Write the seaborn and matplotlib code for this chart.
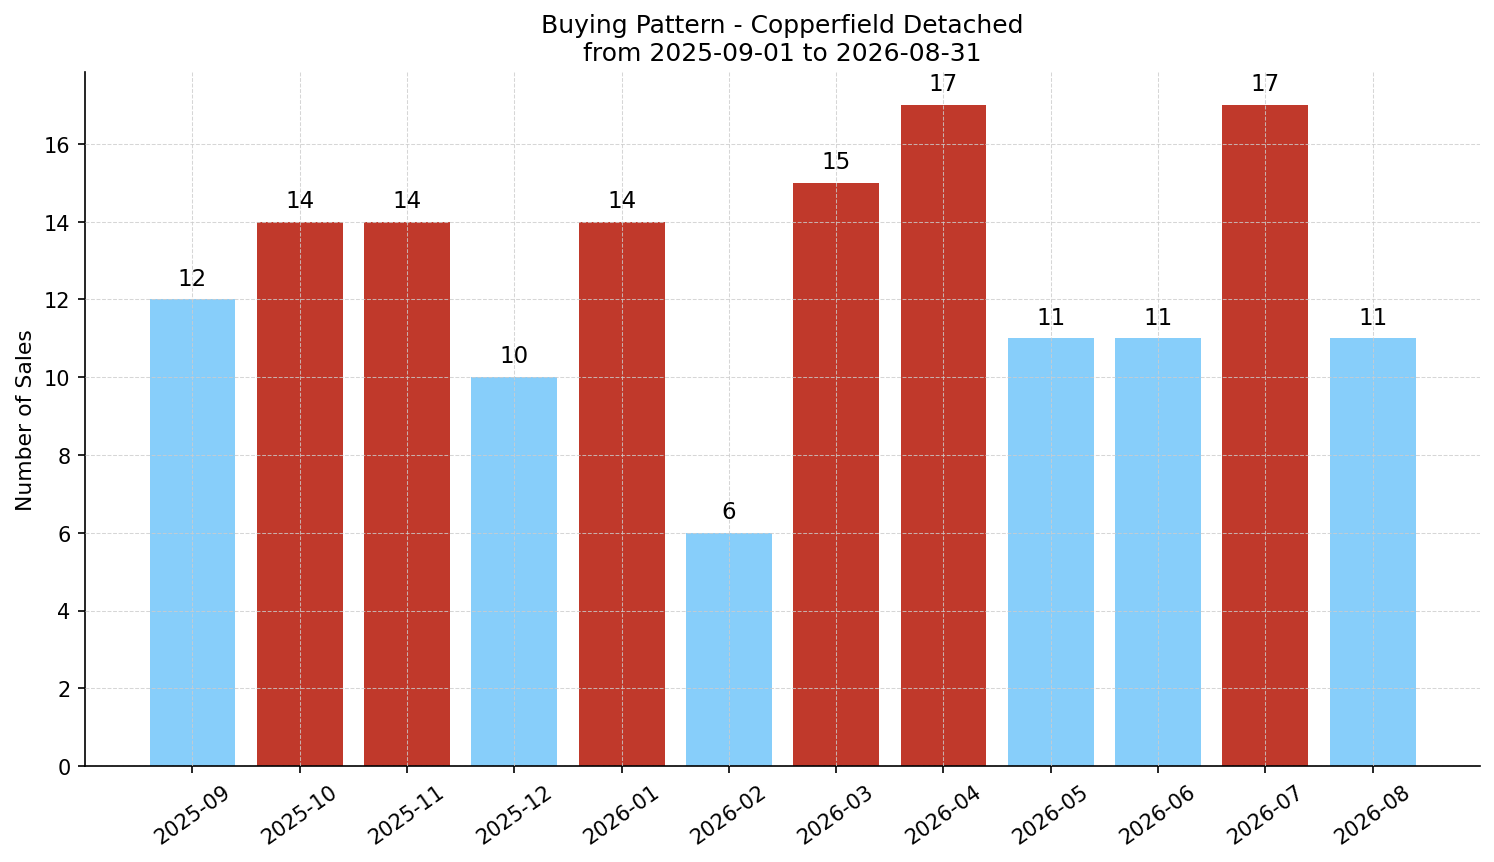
import pandas as pd
import matplotlib
matplotlib.use("Agg")
import matplotlib.pyplot as plt
import seaborn as sns

months = ["2025-09", "2025-10", "2025-11", "2025-12", "2026-01", "2026-02",
          "2026-03", "2026-04", "2026-05", "2026-06", "2026-07", "2026-08"]
sales = [12, 14, 14, 10, 14, 6, 15, 17, 11, 11, 17, 11]

df = pd.DataFrame({"month": months, "sales": sales})
avg = df["sales"].mean()
df["level"] = ["high" if s > avg else "low" for s in df["sales"]]

sns.set_style("ticks", rc={"text.color": "black", "axes.labelcolor": "black",
                           "xtick.color": "black", "ytick.color": "black",
                           "axes.edgecolor": "black"})
plt.rcParams["font.family"] = ["DejaVu Sans"]

fig, ax = plt.subplots(figsize=(9.96, 5.753), dpi=150)
fig.subplots_adjust(left=0.057, right=0.9906, top=0.9154, bottom=0.1112)

sns.barplot(data=df, x="month", y="sales", hue="level",
            palette={"high": "#C0392B", "low": "#87CEFA"},
            width=0.8, saturation=1, dodge=False, legend=False,
            linewidth=0, ax=ax)

for i, v in enumerate(df["sales"]):
    ax.text(i, v + 0.25, str(v), ha="center", va="bottom", fontsize=11)

ax.set_xlim(-1, 12)
ax.set_ylim(0, max(sales) * 1.05)
ax.set_yticks(range(0, 17, 2))
ax.grid(True, linestyle="--", linewidth=0.5, color="#cccccc", alpha=0.8)
ax.set_axisbelow(False)
ax.tick_params(axis="x", rotation=35, labelsize=10)
ax.tick_params(axis="y", labelsize=10)
ax.set_xlabel("")
ax.set_ylabel("Number of Sales", fontsize=10.5)
ax.set_title("Buying Pattern - Copperfield Detached\nfrom 2025-09-01 to 2026-08-31", fontsize=12)
sns.despine(ax=ax)

fig.savefig("out.png", dpi=150)
